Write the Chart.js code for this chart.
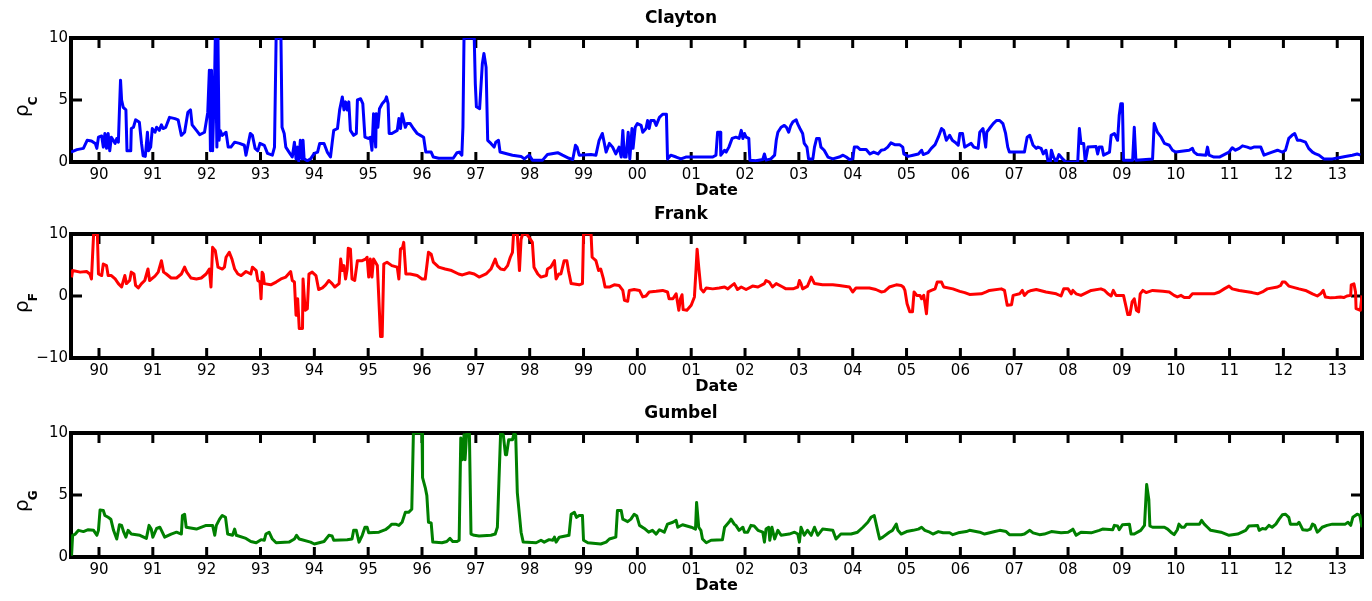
<!DOCTYPE html>
<html>
<head>
<meta charset="utf-8">
<script src="https://cdn.jsdelivr.net/npm/chart.js@4.4.1/dist/chart.umd.min.js"></script>
<style>
  html, body { margin: 0; padding: 0; background: #fff; }
  #wrap { position: relative; width: 1372px; height: 601px; overflow: hidden; }
  canvas { position: absolute; left: 0; }
</style>
</head>
<body>
<div id="wrap">
  <canvas id="c1" width="1372" height="200" style="top:0px"></canvas>
  <canvas id="c2" width="1372" height="200" style="top:196px"></canvas>
  <canvas id="c3" width="1372" height="200" style="top:395px"></canvas>
</div>
<script>
// x = years since 1900 (90 = 1990, 113 = 2013), value = copula parameter
const clayton = [
  [89.48,0.8],[89.59,1.0],[89.71,1.1],[89.78,1.75],[89.86,1.7],[89.93,1.5],[89.96,1.1],[89.99,2.0],[90.05,2.1],[90.08,1.2],
  [90.11,2.3],[90.14,1.1],[90.17,2.3],[90.20,0.9],[90.23,2.0],[90.30,1.5],[90.33,1.9],[90.36,1.6],[90.38,4.2],[90.40,6.6],
  [90.42,5.0],[90.45,4.4],[90.50,4.2],[90.52,0.9],[90.59,0.9],[90.60,2.7],[90.64,2.8],[90.68,3.4],[90.75,3.2],[90.79,1.5],
  [90.82,0.5],[90.86,0.45],[90.90,2.4],[90.92,0.9],[90.96,1.2],[90.99,2.7],[91.04,2.4],[91.07,2.8],[91.12,2.55],[91.16,3.0],
  [91.19,2.7],[91.24,2.8],[91.31,3.6],[91.41,3.5],[91.47,3.4],[91.53,2.15],[91.59,2.4],[91.65,4.0],[91.70,4.2],[91.73,3.0],
  [91.81,2.55],[91.87,2.2],[91.96,2.4],[92.02,4.0],[92.05,7.4],[92.07,0.9],[92.09,7.4],[92.11,0.9],[92.15,7.3],[92.16,10],
  [92.19,1.2],[92.21,10],[92.23,1.75],[92.25,2.55],[92.29,2.15],[92.36,2.4],[92.40,1.2],[92.45,1.2],[92.52,1.6],[92.61,1.5],
  [92.70,1.35],[92.73,0.55],[92.76,1.2],[92.81,2.3],[92.85,2.15],[92.90,1.1],[92.95,0.9],[92.99,1.5],[93.07,1.35],[93.13,0.7],
  [93.22,0.55],[93.26,1.2],[93.29,10],[93.38,10],[93.40,2.8],[93.44,2.3],[93.47,1.2],[93.53,0.8],[93.59,0.4],[93.63,1.6],
  [93.66,0.25],[93.69,1.2],[93.71,0.1],[93.74,1.75],[93.77,0.25],[93.79,1.75],[93.81,0.25],[93.87,0.1],[93.93,0.25],[94.00,0.7],
  [94.06,0.8],[94.10,1.5],[94.18,1.5],[94.24,0.8],[94.30,0.4],[94.33,1.5],[94.36,2.55],[94.43,2.7],[94.47,4.2],[94.52,5.25],
  [94.55,4.2],[94.58,4.85],[94.61,4.2],[94.64,4.85],[94.67,2.55],[94.73,2.15],[94.78,2.3],[94.80,5.0],[94.86,5.1],[94.90,4.7],
  [94.94,2.0],[95.00,1.9],[95.04,2.0],[95.07,0.95],[95.10,3.9],[95.14,1.2],[95.15,3.9],[95.18,2.8],[95.21,4.3],[95.26,4.7],
  [95.32,5.0],[95.34,5.25],[95.37,4.7],[95.39,2.3],[95.44,2.3],[95.54,2.55],[95.57,3.5],[95.60,2.7],[95.63,3.9],[95.66,3.35],
  [95.69,2.8],[95.72,3.1],[95.78,3.1],[95.84,2.7],[95.91,2.3],[95.97,2.15],[96.03,2.0],[96.07,0.8],[96.17,0.8],[96.21,0.4],
  [96.31,0.3],[96.58,0.3],[96.65,0.75],[96.69,0.8],[96.74,0.55],[96.76,2.8],[96.78,10],[96.97,10],[96.99,6.3],[97.01,4.45],
  [97.07,4.3],[97.12,7.9],[97.15,8.75],[97.19,7.65],[97.22,1.75],[97.28,1.5],[97.34,1.2],[97.37,1.6],[97.42,1.75],[97.45,0.8],
  [97.59,0.65],[97.68,0.55],[97.84,0.45],[97.90,0.25],[97.99,0.55],[98.05,0.15],[98.24,0.15],[98.33,0.6],[98.52,0.75],[98.61,0.55],
  [98.73,0.3],[98.80,0.2],[98.85,1.35],[98.88,1.2],[98.92,0.55],[99.14,0.6],[99.23,0.55],[99.29,1.75],[99.35,2.3],[99.42,0.8],
  [99.48,1.5],[99.54,1.2],[99.60,0.65],[99.66,1.2],[99.70,0.4],[99.73,2.55],[99.76,0.4],[99.79,0.4],[99.83,2.4],[99.86,0.25],
  [99.90,2.7],[99.92,1.1],[99.96,2.8],[100.00,3.1],[100.07,2.95],[100.10,2.4],[100.16,2.7],[100.19,3.35],[100.22,2.7],[100.25,3.35],
  [100.31,3.35],[100.35,2.95],[100.41,3.6],[100.47,3.85],[100.54,3.85],[100.56,0.25],[100.62,0.55],[100.72,0.4],[100.81,0.25],[100.90,0.4],
  [101.09,0.4],[101.40,0.4],[101.46,0.55],[101.49,2.4],[101.54,2.4],[101.55,0.55],[101.62,0.95],[101.65,0.8],[101.70,1.2],[101.76,1.9],
  [101.83,2.0],[101.89,1.9],[101.93,2.55],[101.96,1.9],[101.99,2.3],[102.02,2.0],[102.07,1.9],[102.09,0.15],[102.20,0.1],[102.33,0.2],
  [102.36,0.65],[102.39,0.15],[102.48,0.25],[102.55,0.55],[102.58,1.75],[102.61,2.4],[102.67,2.8],[102.73,2.95],[102.77,2.8],[102.81,2.4],
  [102.85,2.95],[102.89,3.25],[102.95,3.4],[102.98,3.05],[103.02,2.7],[103.07,2.3],[103.10,1.5],[103.15,1.2],[103.18,0.25],[103.26,0.25],
  [103.29,1.2],[103.33,1.9],[103.38,1.9],[103.41,1.2],[103.47,0.95],[103.54,0.4],[103.63,0.25],[103.75,0.4],[103.82,0.55],[103.88,0.4],
  [103.94,0.2],[104.00,0.25],[104.03,1.2],[104.09,1.2],[104.14,1.0],[104.25,1.0],[104.32,0.65],[104.39,0.8],[104.47,0.65],[104.53,0.95],
  [104.59,1.0],[104.65,1.2],[104.71,1.55],[104.78,1.4],[104.87,1.4],[104.93,1.2],[104.95,0.65],[105.03,0.45],[105.12,0.55],[105.22,0.65],
  [105.28,0.95],[105.31,0.6],[105.40,0.75],[105.46,1.1],[105.53,1.4],[105.59,2.0],[105.65,2.7],[105.69,2.55],[105.74,1.75],[105.80,2.15],
  [105.85,1.75],[105.90,1.6],[105.96,1.35],[105.99,2.3],[106.04,2.3],[106.08,1.2],[106.14,1.35],[106.20,1.5],[106.25,1.2],[106.33,1.1],
  [106.36,2.4],[106.42,2.7],[106.47,1.2],[106.49,2.4],[106.54,2.7],[106.61,3.1],[106.67,3.35],[106.73,3.35],[106.79,3.1],[106.84,2.3],
  [106.88,1.2],[106.91,0.8],[107.19,0.8],[107.24,2.0],[107.29,2.15],[107.35,1.35],[107.41,1.1],[107.44,1.2],[107.50,1.1],[107.54,0.65],
  [107.59,0.95],[107.63,0],[107.67,0],[107.69,0.95],[107.73,0.4],[107.78,0],[107.83,0.6],[107.90,0.25],[107.96,0],[108.18,0],
  [108.21,2.7],[108.24,1.5],[108.29,1.5],[108.32,0],[108.37,1.2],[108.52,1.25],[108.55,0.65],[108.58,1.2],[108.63,1.2],[108.66,0.55],
  [108.77,0.8],[108.80,2.15],[108.86,2.3],[108.92,1.75],[108.95,3.75],[108.98,4.7],[109.01,4.7],[109.03,0.15],[109.20,0.15],[109.23,2.8],
  [109.26,0.15],[109.57,0.25],[109.60,3.1],[109.66,2.4],[109.73,2.0],[109.79,1.5],[109.88,1.35],[109.94,0.95],[110.00,0.8],[110.25,0.95],
  [110.31,1.1],[110.34,0.8],[110.40,0.6],[110.56,0.55],[110.59,1.2],[110.62,0.55],[110.71,0.4],[110.81,0.4],[110.90,0.6],[110.99,0.8],
  [111.05,1.15],[111.11,0.95],[111.18,1.1],[111.24,1.3],[111.33,1.2],[111.39,1.1],[111.45,1.2],[111.58,1.2],[111.64,0.55],[111.70,0.65],
  [111.79,0.8],[111.89,0.95],[111.98,0.8],[112.04,0.95],[112.10,1.9],[112.16,2.15],[112.21,2.3],[112.26,1.75],[112.32,1.75],[112.41,1.6],
  [112.47,1.1],[112.54,0.8],[112.60,0.65],[112.66,0.55],[112.75,0.25],[112.91,0.25],[113.03,0.35],[113.15,0.45],[113.28,0.55],[113.37,0.65],
  [113.43,0.55]
];

const frank = [
  [89.49,3.0],[89.51,4.1],[89.65,3.85],[89.77,3.95],[89.83,3.55],[89.86,2.75],[89.90,10],[89.97,10],[89.99,3.55],[90.05,3.3],
  [90.08,5.15],[90.14,4.9],[90.17,3.3],[90.23,3.3],[90.30,2.75],[90.36,2.0],[90.42,1.45],[90.48,3.3],[90.51,2.0],[90.57,2.5],
  [90.60,3.85],[90.65,3.55],[90.68,1.7],[90.73,1.3],[90.79,2.0],[90.85,2.5],[90.91,4.35],[90.94,2.5],[91.04,3.2],[91.10,3.85],
  [91.16,5.7],[91.20,3.85],[91.25,3.55],[91.34,2.9],[91.44,2.9],[91.53,3.55],[91.59,4.65],[91.63,3.85],[91.71,2.9],[91.81,2.75],
  [91.90,2.9],[91.99,3.55],[92.05,4.35],[92.08,1.45],[92.11,7.85],[92.16,7.3],[92.21,4.65],[92.29,4.35],[92.33,4.65],[92.36,6.25],
  [92.42,7.05],[92.47,5.95],[92.52,4.35],[92.58,3.55],[92.64,3.3],[92.73,3.95],[92.82,3.55],[92.85,4.65],[92.92,4.1],[92.95,2.5],
  [92.99,2.25],[93.01,-0.45],[93.03,3.85],[93.05,3.55],[93.07,2.0],[93.19,1.8],[93.29,2.25],[93.38,2.75],[93.47,3.05],[93.56,3.95],
  [93.59,2.5],[93.63,2.25],[93.66,-3.1],[93.69,-0.45],[93.72,-5.25],[93.78,-5.25],[93.79,2.75],[93.83,-2.3],[93.87,-2.05],[93.90,3.55],
  [93.96,3.85],[94.03,3.3],[94.08,1.05],[94.15,1.3],[94.21,1.8],[94.27,2.5],[94.33,2.0],[94.38,1.45],[94.46,2.0],[94.49,5.95],
  [94.52,4.1],[94.55,4.9],[94.58,2.75],[94.61,4.35],[94.63,7.7],[94.67,7.55],[94.70,2.75],[94.75,2.5],[94.80,5.7],[94.89,5.7],
  [94.95,5.95],[94.98,6.25],[95.01,3.05],[95.04,5.95],[95.07,3.05],[95.10,5.95],[95.17,4.9],[95.23,-6.55],[95.26,-6.55],[95.29,5.15],
  [95.35,5.45],[95.44,4.9],[95.54,4.65],[95.57,2.75],[95.60,7.55],[95.64,7.85],[95.66,8.65],[95.70,3.55],[95.78,3.55],[95.91,3.3],
  [96.00,2.75],[96.06,2.75],[96.12,7.05],[96.17,6.75],[96.21,5.45],[96.31,4.65],[96.43,4.35],[96.55,4.1],[96.68,3.55],[96.75,3.4],
  [96.88,3.75],[96.97,3.55],[97.06,3.05],[97.19,3.55],[97.28,4.35],[97.36,5.95],[97.40,4.9],[97.46,4.35],[97.53,4.25],[97.59,4.9],
  [97.64,6.25],[97.68,7.05],[97.70,10],[97.77,10],[97.81,4.1],[97.84,9.15],[97.87,10],[97.94,10],[97.99,9.45],[98.05,8.65],
  [98.08,4.65],[98.15,3.55],[98.21,3.05],[98.31,3.3],[98.33,4.35],[98.39,4.65],[98.46,5.7],[98.49,2.75],[98.54,3.55],[98.58,3.55],
  [98.64,5.7],[98.69,5.7],[98.72,4.1],[98.77,2.0],[98.92,1.8],[98.98,2.0],[99.00,10],[99.14,10],[99.16,6.25],[99.23,5.7],
  [99.28,4.1],[99.32,4.35],[99.37,2.75],[99.40,1.45],[99.48,1.45],[99.57,1.8],[99.66,1.7],[99.73,0.9],[99.76,-0.7],[99.82,-0.85],
  [99.85,0.9],[99.94,1.05],[100.04,0.9],[100.10,-0.15],[100.16,0],[100.22,0.65],[100.35,0.75],[100.47,0.9],[100.56,0.65],[100.59,-0.45],
  [100.66,-0.45],[100.72,0.35],[100.77,-2.3],[100.80,-0.45],[100.83,0.2],[100.85,-2.2],[100.92,-2.3],[101.00,-1.5],[101.06,-0.15],[101.09,4.35],
  [101.11,7.55],[101.14,4.65],[101.18,1.15],[101.23,0.65],[101.28,1.3],[101.40,1.15],[101.52,1.3],[101.62,1.45],[101.68,1.15],[101.74,1.6],
  [101.80,2.0],[101.86,1.05],[101.93,1.45],[102.02,1.05],[102.14,1.6],[102.24,1.45],[102.36,2.0],[102.39,2.5],[102.45,2.25],[102.51,1.45],
  [102.58,2.0],[102.70,1.45],[102.76,1.15],[102.89,1.15],[102.98,1.45],[103.01,2.5],[103.04,2.0],[103.07,1.15],[103.16,1.6],[103.23,3.05],
  [103.29,2.0],[103.44,1.8],[103.63,1.8],[103.75,1.7],[103.94,1.45],[104.00,0.65],[104.06,1.3],[104.31,1.3],[104.43,1.05],[104.53,0.65],
  [104.59,0.75],[104.68,1.45],[104.81,1.8],[104.90,1.7],[104.94,1.45],[104.97,0.9],[105.01,-1.25],[105.06,-2.55],[105.11,-2.55],[105.14,0.65],
  [105.19,0.1],[105.25,0.1],[105.28,-0.45],[105.32,0.1],[105.37,-2.85],[105.40,0.65],[105.46,0.9],[105.53,1.15],[105.57,2.25],[105.65,2.25],
  [105.69,1.45],[105.86,1.15],[105.99,0.75],[106.08,0.55],[106.17,0.25],[106.39,0.35],[106.48,0.65],[106.54,0.9],[106.76,1.15],[106.82,0.9],
  [106.87,-1.5],[106.95,-1.4],[106.98,0.1],[107.10,0.35],[107.15,0.9],[107.19,0.1],[107.25,0.65],[107.32,0.9],[107.41,1.05],[107.59,0.65],
  [107.78,0.35],[107.87,0],[107.92,1.15],[108.00,1.15],[108.06,0.35],[108.09,0.9],[108.15,0.35],[108.24,0.1],[108.43,0.9],[108.61,1.15],
  [108.68,0.9],[108.74,0.35],[108.80,0],[108.84,0.9],[108.89,0.1],[109.03,0.1],[109.11,-3.0],[109.15,-3.0],[109.19,-0.95],[109.23,-0.45],
  [109.27,-2.3],[109.31,-2.55],[109.34,0.35],[109.39,0.9],[109.45,0.55],[109.57,0.9],[109.76,0.75],[109.88,0.65],[109.97,0.1],[110.03,-0.15],
  [110.10,0.1],[110.16,-0.25],[110.25,-0.25],[110.31,0.35],[110.56,0.35],[110.71,0.35],[110.81,0.65],[110.90,1.15],[110.99,1.6],[111.05,1.15],
  [111.18,0.9],[111.42,0.55],[111.52,0.35],[111.61,0.65],[111.70,1.15],[111.89,1.45],[111.95,1.7],[111.98,2.25],[112.03,2.25],[112.10,1.6],
  [112.29,1.15],[112.41,0.9],[112.54,0.35],[112.63,0],[112.69,0.35],[112.74,0.9],[112.78,-0.15],[112.88,-0.3],[112.97,-0.25],[113.06,-0.15],
  [113.12,-0.25],[113.18,0],[113.25,0.1],[113.26,1.8],[113.31,1.95],[113.34,0.65],[113.35,-2.05],[113.43,-2.3],[113.46,0.1]
];

const gumbel = [
  [89.49,0.1],[89.51,1.75],[89.56,1.85],[89.62,2.15],[89.71,2.05],[89.80,2.2],[89.90,2.15],[89.96,1.75],[89.99,2.15],[90.02,3.8],
  [90.08,3.75],[90.11,3.35],[90.17,3.2],[90.22,3.05],[90.27,2.15],[90.33,1.45],[90.38,2.6],[90.42,2.55],[90.46,2.0],[90.50,1.6],
  [90.54,2.15],[90.60,1.85],[90.76,1.75],[90.88,1.5],[90.93,2.55],[90.97,2.25],[91.00,1.6],[91.07,2.3],[91.13,2.4],[91.16,2.15],
  [91.22,1.6],[91.34,1.85],[91.44,2.0],[91.53,1.85],[91.55,3.35],[91.59,3.45],[91.62,2.4],[91.81,2.25],[91.99,2.55],[92.11,2.55],
  [92.15,1.75],[92.18,2.55],[92.24,3.05],[92.29,3.35],[92.35,3.2],[92.39,1.85],[92.48,1.75],[92.52,2.25],[92.55,1.75],[92.73,1.5],
  [92.82,1.25],[92.92,1.15],[93.01,1.4],[93.07,1.35],[93.10,1.85],[93.16,2.0],[93.22,1.45],[93.29,1.15],[93.53,1.2],[93.63,1.45],
  [93.67,1.75],[93.72,1.45],[93.93,1.2],[94.00,1.05],[94.18,1.25],[94.27,1.75],[94.33,1.7],[94.36,1.35],[94.61,1.4],[94.70,1.45],
  [94.73,2.15],[94.78,2.15],[94.83,1.2],[94.89,1.75],[94.94,2.4],[94.98,2.4],[95.01,1.95],[95.20,2.0],[95.32,2.2],[95.38,2.4],
  [95.44,2.65],[95.51,2.65],[95.57,2.55],[95.63,2.8],[95.69,3.6],[95.75,3.6],[95.81,3.85],[95.84,10],[96.00,10],[96.01,6.4],
  [96.06,5.6],[96.09,4.95],[96.12,2.8],[96.17,2.75],[96.20,1.2],[96.37,1.15],[96.46,1.25],[96.52,1.5],[96.57,1.25],[96.65,1.25],
  [96.69,1.35],[96.72,9.6],[96.75,7.85],[96.78,9.85],[96.80,7.85],[96.83,10],[96.88,10],[96.91,1.85],[96.97,1.75],[97.06,1.7],
  [97.28,1.75],[97.36,1.85],[97.40,2.4],[97.43,6.25],[97.46,10],[97.51,9.85],[97.55,8.25],[97.57,8.25],[97.61,9.45],[97.68,9.45],
  [97.71,10],[97.74,9.85],[97.77,5.2],[97.81,3.35],[97.84,2.0],[97.88,1.2],[98.12,1.15],[98.21,1.35],[98.27,1.2],[98.36,1.4],
  [98.43,1.35],[98.46,1.6],[98.49,1.2],[98.55,1.6],[98.73,1.75],[98.77,3.45],[98.83,3.6],[98.87,3.2],[98.92,3.35],[98.98,3.35],
  [99.00,1.35],[99.08,1.15],[99.32,1.05],[99.42,1.2],[99.48,1.45],[99.60,1.6],[99.63,3.75],[99.70,3.75],[99.73,3.05],[99.82,2.85],
  [99.88,3.05],[99.94,3.45],[99.99,3.3],[100.04,2.55],[100.13,2.3],[100.21,2.0],[100.28,2.15],[100.35,1.85],[100.41,2.2],[100.50,2.0],
  [100.56,2.65],[100.66,2.8],[100.72,2.95],[100.75,2.4],[100.84,2.6],[101.00,2.4],[101.08,2.25],[101.10,4.4],[101.14,2.4],[101.18,2.15],
  [101.21,1.45],[101.28,1.15],[101.37,1.35],[101.58,1.4],[101.62,2.4],[101.70,2.8],[101.74,3.05],[101.80,2.65],[101.83,2.55],[101.89,2.15],
  [101.96,2.4],[101.99,2.0],[102.05,2.0],[102.11,2.55],[102.17,2.5],[102.24,2.15],[102.33,2.0],[102.36,1.2],[102.39,2.25],[102.44,2.4],
  [102.46,1.35],[102.50,2.4],[102.55,1.45],[102.61,2.15],[102.67,1.75],[102.82,1.85],[102.92,2.0],[102.98,1.85],[103.01,1.2],[103.04,2.4],
  [103.10,1.75],[103.16,2.15],[103.23,1.75],[103.29,2.4],[103.35,1.75],[103.44,2.25],[103.63,2.15],[103.69,1.45],[103.78,1.85],[103.97,1.85],
  [104.09,2.0],[104.19,2.4],[104.28,2.8],[104.34,3.2],[104.40,3.35],[104.47,2.0],[104.50,1.45],[104.56,1.6],[104.68,2.0],[104.74,2.15],
  [104.81,2.65],[104.84,2.15],[104.90,1.85],[105.00,2.05],[105.12,2.15],[105.22,2.25],[105.28,2.4],[105.34,2.15],[105.43,2.0],[105.49,1.85],
  [105.59,2.05],[105.68,1.95],[105.80,1.95],[105.86,1.8],[105.96,1.95],[106.11,2.05],[106.17,2.15],[106.36,2.0],[106.45,1.85],[106.64,2.05],
  [106.73,2.15],[106.85,2.05],[106.91,1.8],[107.13,1.8],[107.19,1.85],[107.29,2.15],[107.35,1.95],[107.47,1.8],[107.56,1.85],[107.69,2.05],
  [107.87,1.95],[108.00,2.0],[108.06,2.15],[108.09,2.25],[108.15,1.75],[108.24,2.0],[108.43,1.95],[108.58,2.15],[108.64,2.25],[108.83,2.2],
  [108.86,2.55],[108.92,2.5],[108.95,2.2],[109.01,2.6],[109.14,2.65],[109.17,1.85],[109.23,1.85],[109.35,2.15],[109.42,2.55],[109.46,5.85],
  [109.50,4.65],[109.52,2.5],[109.57,2.4],[109.79,2.4],[109.85,2.25],[109.91,2.0],[109.97,1.8],[110.03,2.2],[110.06,2.65],[110.11,2.4],
  [110.16,2.4],[110.20,2.65],[110.44,2.65],[110.48,2.95],[110.53,2.65],[110.59,2.4],[110.65,2.15],[110.84,2.0],[110.99,1.75],[111.15,1.85],
  [111.30,2.15],[111.36,2.5],[111.52,2.55],[111.55,2.15],[111.61,2.3],[111.67,2.25],[111.73,2.55],[111.79,2.4],[111.86,2.65],[111.92,3.05],
  [111.98,3.4],[112.04,3.45],[112.10,3.2],[112.13,2.65],[112.26,2.65],[112.29,2.8],[112.32,2.55],[112.36,2.2],[112.44,2.15],[112.50,2.25],
  [112.54,2.65],[112.58,2.55],[112.63,2.0],[112.67,2.15],[112.72,2.4],[112.81,2.55],[112.91,2.65],[113.15,2.65],[113.20,2.8],[113.25,2.55],
  [113.29,3.2],[113.37,3.45],[113.42,3.35],[113.46,2.4]
];

const yearTicks  = [90,91,92,93,94,95,96,97,98,99,100,101,102,103,104,105,106,107,108,109,110,111,112,113];
const yearLabels = ['90','91','92','93','94','95','96','97','98','99','00','01','02','03','04','05','06','07','08','09','10','11','12','13'];
const claytonTicks = [0, 5, 10];
const frankTicks   = [-10, 0, 10];
const gumbelTicks  = [0, 5, 10];

const FONT = 'DejaVu Sans';

// matlab style box: thick frame, inward ticks on all four sides, rotated rho label
const boxPlugin = {
    id: 'matlabBox',
    beforeDatasetsDraw(chart) {
        const { ctx, chartArea: a, scales: { x, y } } = chart;
        ctx.save();
        ctx.strokeStyle = '#000';
        ctx.lineWidth = 3;
        ctx.beginPath();
        x.ticks.forEach(t => {
            const px = x.getPixelForValue(t.value);
            ctx.moveTo(px, a.bottom); ctx.lineTo(px, a.bottom - 10);
            ctx.moveTo(px, a.top);    ctx.lineTo(px, a.top + 10);
        });
        y.ticks.forEach(t => {
            const py = y.getPixelForValue(t.value);
            ctx.moveTo(a.left, py);  ctx.lineTo(a.left + 11, py);
            ctx.moveTo(a.right, py); ctx.lineTo(a.right - 11, py);
        });
        ctx.stroke();
        ctx.lineWidth = 4;
        ctx.strokeRect(a.left, a.top, a.right - a.left, a.bottom - a.top);
        ctx.restore();
    },
    afterDraw(chart, args, opts) {
        const { ctx, chartArea: a } = chart;
        const cy = (a.top + a.bottom) / 2;
        ctx.save();
        ctx.translate(28, cy + 17);
        ctx.rotate(-Math.PI / 2);
        ctx.fillStyle = '#000';
        ctx.textAlign = 'left';
        ctx.textBaseline = 'alphabetic';
        ctx.font = `20px "${FONT}"`;
        ctx.fillText('\u03c1', 0, 0);
        const w = ctx.measureText('\u03c1').width;
        ctx.font = `bold 12px "${FONT}"`;
        ctx.fillText(opts.sub, w - 1, 9);
        ctx.restore();
    }
};

function makePanel(id, title, series, color, yTicks, sub) {
    const ctx = document.getElementById(id).getContext('2d');
    return new Chart(ctx, {
        type: 'line',
        data: {
            datasets: [{
                data: series.map(([x, y]) => ({ x, y })),
                borderColor: color, borderWidth: 3, pointRadius: 0,
                tension: 0, fill: false, borderJoinStyle: 'round'
            }]
        },
        options: {
            responsive: false, animation: false, devicePixelRatio: 1,
            layout: { padding: { left: 0, right: 10, top: 0, bottom: 0 } },
            plugins: {
                legend: { display: false },
                tooltip: { enabled: false },
                title: {
                    display: true, text: title, color: '#000',
                    font: { family: FONT, size: 17, weight: 'bold' },
                    padding: { top: 8, bottom: 9.6 }
                },
                matlabBox: { sub }
            },
            scales: {
                x: {
                    type: 'linear', min: 89.48, max: 113.46,
                    afterBuildTicks: s => { s.ticks = yearTicks.map(v => ({ value: v })); },
                    afterFit: s => { s.height = 38; },
                    grid: { display: false, drawTicks: false },
                    border: { display: false },
                    ticks: {
                        autoSkip: false, maxRotation: 0, padding: 4, color: '#000',
                        font: { family: FONT, size: 15 },
                        callback: (v, i) => yearLabels[i]
                    },
                    title: {
                        display: true, text: 'Date', color: '#000',
                        font: { family: FONT, size: 16, weight: 'bold' },
                        padding: { top: 0, bottom: 0 }
                    }
                },
                y: {
                    min: yTicks[0], max: yTicks[yTicks.length - 1],
                    afterBuildTicks: s => { s.ticks = yTicks.map(v => ({ value: v })); },
                    afterFit: s => { s.width = 71; },
                    grid: { display: false, drawTicks: false },
                    border: { display: false },
                    ticks: {
                        padding: 3, color: '#000',
                        font: { family: FONT, size: 15 },
                        callback: v => v < 0 ? '\u2212' + Math.abs(v) : String(v)
                    }
                }
            }
        },
        plugins: [boxPlugin]
    });
}

makePanel('c1', 'Clayton', clayton, '#0000ff', claytonTicks, 'C');
makePanel('c2', 'Frank',   frank,   '#ff0000', frankTicks,   'F');
makePanel('c3', 'Gumbel',  gumbel,  '#008000', gumbelTicks,  'G');
</script>
</body>
</html>
